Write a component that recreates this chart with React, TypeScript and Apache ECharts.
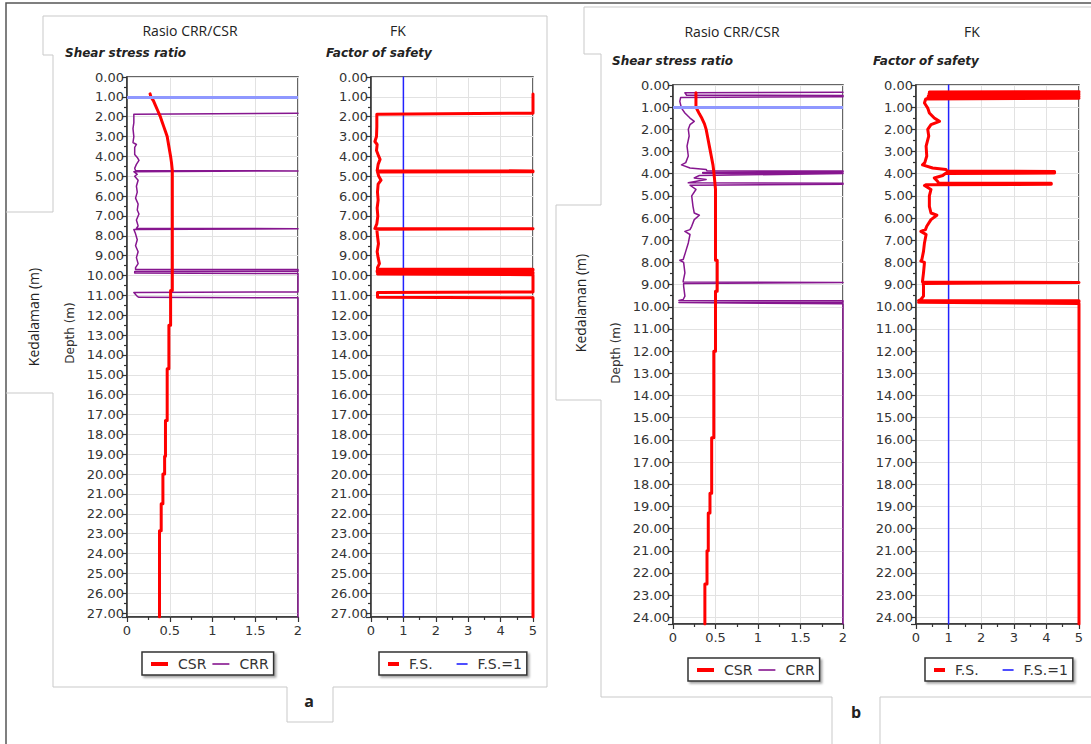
import React, { useEffect, useRef } from "react";
import * as echarts from "echarts";

// ---------- axis settings ----------
const RATIO_AXIS = [0, 2, 0.5]; // min, max, interval
const FS_AXIS = [0, 5, 1];
const DEPTH_A = [0, 27.2];
const DEPTH_B = [0, 24.3];
const GWT_A = 1.0; // groundwater level line (m)
const GWT_B = 1.0;
const FS_LIMIT = 1;

// ---------- panel a data: [value, depth] ----------
const CSR_A = [
  [0.27, 0.85], [0.28, 1.0], [0.31, 1.2], [0.33, 1.4], [0.36, 1.7], [0.39, 2.0], [0.41, 2.25],
  [0.43, 2.5], [0.45, 2.75], [0.47, 3.0], [0.48, 3.25], [0.49, 3.5], [0.5, 3.75], [0.51, 4.0],
  [0.52, 4.3], [0.53, 4.7], [0.53, 10.75], [0.51, 10.75], [0.51, 12.5], [0.49, 12.5], [0.49, 14.7],
  [0.47, 14.7], [0.47, 17.3], [0.45, 17.3], [0.45, 19.1], [0.44, 19.1], [0.44, 20.0], [0.42, 20.0],
  [0.42, 21.5], [0.4, 21.5], [0.4, 22.85], [0.38, 22.85], [0.38, 27.2],
];
const CRR_A = [
  [2, 1.83], [0.08, 1.88], [0.08, 2.3], [0.07, 2.6], [0.08, 3.0], [0.07, 3.3], [0.11, 3.4], [0.09, 3.55],
  [0.09, 3.9], [0.12, 4.05], [0.14, 4.2], [0.11, 4.4], [0.09, 4.6], [0.1, 4.72], [2, 4.73], [2, 4.76],
  [0.08, 4.77], [0.12, 4.9], [0.09, 5.0], [0.13, 5.2], [0.11, 5.5], [0.12, 5.8], [0.1, 6.1], [0.13, 6.4],
  [0.12, 6.7], [0.14, 6.9], [0.11, 7.2], [0.13, 7.5], [0.11, 7.63], [2, 7.64], [2, 7.67], [0.08, 7.68],
  [0.1, 7.9], [0.12, 8.2], [0.1, 8.5], [0.13, 8.8], [0.11, 9.1], [0.13, 9.4], [0.1, 9.6], [0.1, 9.7],
  [2, 9.7], [2, 9.78], [0.09, 9.8], [0.09, 9.87], [2, 9.9], [2, 10.83], [0.08, 10.85], [0.12, 11.05],
  [0.14, 11.1], [2, 11.12], [2, 27.2],
];
const FS_A = [
  [5, 0.85], [5, 1.82], [0.18, 1.88], [0.18, 2.5], [0.17, 3.0], [0.12, 3.25], [0.19, 3.4], [0.17, 3.7],
  [0.24, 4.0], [0.28, 4.15], [0.22, 4.4], [0.19, 4.72], [5, 4.73], [5, 4.77], [0.2, 4.78], [0.24, 5.0],
  [0.31, 5.2], [0.22, 5.4], [0.2, 5.8], [0.22, 6.2], [0.19, 6.6], [0.21, 7.0], [0.18, 7.4], [0.12, 7.63],
  [5, 7.64], [5, 7.67], [0.18, 7.68], [0.2, 8.0], [0.23, 8.4], [0.19, 8.8], [0.22, 9.1], [0.26, 9.4],
  [0.2, 9.6], [0.2, 9.68], [5, 9.68], [5, 9.74], [0.19, 9.76], [0.19, 9.82], [5, 9.84], [5, 9.9],
  [0.2, 9.92], [0.2, 9.95], [5, 9.96], [5, 10.83], [0.2, 10.85], [0.2, 11.1], [5, 11.12], [5, 27.2],
];

// ---------- panel b data: [value, depth] ----------
const CSR_B = [
  [0.27, 0.35], [0.27, 1.0], [0.29, 1.15], [0.31, 1.3], [0.34, 1.5], [0.37, 1.75], [0.39, 2.0],
  [0.41, 2.4], [0.43, 2.8], [0.45, 3.2], [0.47, 3.6], [0.48, 3.9], [0.49, 4.3], [0.5, 4.7], [0.5, 7.9],
  [0.52, 7.9], [0.52, 9.3], [0.5, 9.3], [0.5, 12.0], [0.48, 12.0], [0.48, 15.9], [0.455, 15.9],
  [0.455, 18.4], [0.435, 18.4], [0.435, 19.3], [0.415, 19.3], [0.415, 21.0], [0.4, 21.0], [0.4, 22.5],
  [0.375, 22.5], [0.375, 24.3],
];
const CRR_B = [
  [2, 0.33], [0.14, 0.35], [0.16, 0.46], [2, 0.47], [2, 0.53], [0.09, 0.56], [0.08, 0.74], [0.1, 1.04],
  [0.14, 1.26], [0.2, 1.49], [0.25, 1.64], [0.2, 1.79], [0.18, 2.0], [0.19, 2.3], [0.165, 2.76],
  [0.18, 3.2], [0.15, 3.5], [0.1, 3.6], [0.2, 3.74], [0.39, 3.81], [0.4, 3.87], [2, 3.88], [2, 3.92],
  [0.35, 3.94], [0.35, 3.98], [2, 3.99], [2, 4.02], [0.31, 4.08], [0.25, 4.19], [0.39, 4.26],
  [0.18, 4.41], [2, 4.43], [2, 4.47], [0.2, 4.52], [0.27, 4.71], [0.22, 5.0], [0.235, 5.47],
  [0.25, 5.77], [0.31, 5.87], [0.25, 6.07], [0.22, 6.37], [0.2, 6.52], [0.14, 6.6], [0.2, 6.74],
  [0.18, 7.12], [0.15, 7.5], [0.12, 7.87], [0.08, 7.9], [0.125, 8.0], [0.14, 8.47], [0.12, 8.84],
  [0.12, 8.88], [2, 8.9], [2, 8.93], [0.125, 8.95], [0.125, 9.07], [0.14, 9.52], [0.12, 9.67],
  [0.07, 9.72], [2, 9.73], [2, 9.8], [0.07, 9.81], [0.07, 9.84], [2, 9.86], [2, 24.3],
];
const FS_B = [
  [5, 0.3], [0.41, 0.32], [5, 0.36], [0.4, 0.4], [5, 0.44], [0.38, 0.48], [5, 0.52], [0.36, 0.56],
  [5, 0.6], [0.3, 0.63], [0.29, 0.66], [0.26, 0.81], [0.36, 1.04], [0.41, 1.26], [0.56, 1.49],
  [0.72, 1.64], [0.46, 1.79], [0.36, 2.0], [0.39, 2.3], [0.31, 2.76], [0.33, 3.2], [0.27, 3.5],
  [0.2, 3.6], [0.51, 3.74], [0.92, 3.81], [0.95, 3.88], [4.25, 3.9], [4.25, 3.97], [0.9, 3.99],
  [0.82, 4.08], [0.56, 4.19], [0.66, 4.34], [0.7, 4.42], [4.15, 4.43], [4.15, 4.48], [0.3, 4.5],
  [0.26, 4.53], [0.46, 4.71], [0.41, 5.0], [0.41, 5.47], [0.46, 5.77], [0.64, 5.87], [0.46, 6.07],
  [0.33, 6.37], [0.29, 6.52], [0.15, 6.6], [0.31, 6.74], [0.26, 7.12], [0.23, 7.5], [0.18, 7.87],
  [0.15, 7.94], [0.26, 8.0], [0.23, 8.47], [0.2, 8.84], [0.2, 8.88], [5, 8.9], [5, 8.93], [0.22, 8.95],
  [0.23, 9.07], [0.23, 9.52], [0.15, 9.67], [0.08, 9.72], [5, 9.73], [5, 9.78], [0.08, 9.8],
  [0.08, 9.83], [5, 9.85], [5, 24.3],
];

const NAMES = ["CSR", "CRR", "F.S.", "F.S.=1"];

// ---------- styling ----------
const RED = "#ff0000";
const PURPLE = "#86168f";
const BLUE = "#2222ff";
const GWT_COLOR = "#8f98ff";
const DARK = "#333333";
const FRAME = "#c9c9c9";
const NUM_FONT = "DejaVu Sans";
const TITLE_FONT = "Open Sans";

const GRIDS = [
  { left: 127, top: 77, width: 171, height: 540 },
  { left: 371, top: 77, width: 162, height: 540 },
  { left: 673, top: 85, width: 170, height: 539 },
  { left: 916, top: 85, width: 163, height: 539 },
];

function xAxisFor(i: number, ax: number[]) {
  return {
    type: "value",
    gridIndex: i,
    min: ax[0],
    max: ax[1],
    interval: ax[2],
    position: "bottom",
    axisLine: { show: true, onZero: false, lineStyle: { color: DARK, width: 1.5 } },
    axisTick: { show: true, length: 5, lineStyle: { color: DARK, width: 1.2 } },
    minorTick: { show: true, splitNumber: 2, length: 3, lineStyle: { color: DARK, width: 1.2 } },
    axisLabel: { color: DARK, fontFamily: NUM_FONT, fontSize: 13, margin: 7 },
    splitLine: { show: true, lineStyle: { color: "#e2e2e2", width: 1 } },
  };
}

function yAxisFor(i: number, dep: number[]) {
  return {
    type: "value",
    gridIndex: i,
    inverse: true,
    min: dep[0],
    max: dep[1],
    interval: 1,
    axisLine: { show: true, onZero: false, lineStyle: { color: DARK, width: 1.5 } },
    axisTick: { show: true, length: 5, lineStyle: { color: DARK, width: 1.2 } },
    minorTick: { show: true, splitNumber: 2, length: 3, lineStyle: { color: DARK, width: 1.2 } },
    axisLabel: {
      color: DARK,
      fontFamily: NUM_FONT,
      fontSize: 13,
      margin: 3,
      showMaxLabel: false,
      formatter: (v: number) => v.toFixed(2),
    },
    splitLine: { show: true, lineStyle: { color: "#e2e2e2", width: 1 } },
  };
}

function lineSeries(name: string, data: number[][], gi: number, color: string, width: number, extra: any = {}) {
  return {
    name,
    type: "line",
    xAxisIndex: gi,
    yAxisIndex: gi,
    data,
    color,
    showSymbol: false,
    symbol: "none",
    silent: true,
    lineStyle: { color, width, cap: "round", join: "round" },
    ...extra,
  };
}

function gwtMark(depth: number) {
  return {
    markLine: {
      silent: true,
      symbol: "none",
      label: { show: false },
      lineStyle: { color: GWT_COLOR, width: 3, type: "solid" },
      data: [{ yAxis: depth }],
    },
  };
}

const THICK_ICON = "path://M0,0H17V4H0Z";
const THIN_ICON = "path://M0,0H17V1.6H0Z";
const THICK_ICON_S = "path://M0,0H11V4H0Z";
const THIN_ICON_S = "path://M0,0H11V1.6H0Z";

function legendBox(left: number, top: number, names: string[], icons: string[], gap: number, iw: number) {
  return {
    left,
    top,
    orient: "horizontal",
    data: names.map((n, k) => ({ name: n, icon: icons[k] })),
    itemWidth: iw,
    itemHeight: 8,
    itemGap: gap,
    symbolKeepAspect: true,
    padding: [5, 5, 4, 9],
    backgroundColor: "#ffffff",
    borderColor: DARK,
    borderWidth: 1.5,
    borderRadius: 0,
    shadowColor: "rgba(0,0,0,0.35)",
    shadowBlur: 2,
    shadowOffsetX: 2,
    shadowOffsetY: 2,
    selectedMode: false,
    textStyle: { color: DARK, fontFamily: NUM_FONT, fontSize: 14, padding: [0, 0, 0, 5] },
  };
}

function txt(text: string, x: number, y: number, font: string, align = "center", rot = 0, fill = "#222") {
  return {
    type: "text",
    x,
    y,
    rotation: rot,
    silent: true,
    style: {
      text,
      font,
      fill,
      align,
      verticalAlign: "middle",
      textAlign: align,
      textVerticalAlign: "middle",
    },
  };
}

function pl(points: number[][], stroke = FRAME, lineWidth = 1) {
  return {
    type: "polyline",
    silent: true,
    shape: { points },
    style: { stroke, lineWidth, fill: "none" },
  };
}

export default function App() {
  const ref = useRef<HTMLDivElement>(null);
  useEffect(() => {
    if (!ref.current) return;
    const chart = echarts.init(ref.current, null, { renderer: "svg" });
    const ROT = Math.PI / 2;
    const option: any = {
      animation: false,
      backgroundColor: "#ffffff",
      grid: GRIDS.map((g) => ({
        ...g,
        show: true,
        borderColor: DARK,
        borderWidth: 1.5,
        backgroundColor: "transparent",
        containLabel: false,
      })),
      xAxis: [xAxisFor(0, RATIO_AXIS), xAxisFor(1, FS_AXIS), xAxisFor(2, RATIO_AXIS), xAxisFor(3, FS_AXIS)],
      yAxis: [yAxisFor(0, DEPTH_A), yAxisFor(1, DEPTH_A), yAxisFor(2, DEPTH_B), yAxisFor(3, DEPTH_B)],
      legend: [
        legendBox(142, 652, [NAMES[0], NAMES[1]], [THICK_ICON, THIN_ICON], 6, 17),
        legendBox(379, 652, [NAMES[2], NAMES[3]], [THICK_ICON_S, THIN_ICON_S], 24, 11),
        legendBox(688, 658, [NAMES[0], NAMES[1]], [THICK_ICON, THIN_ICON], 6, 17),
        legendBox(925, 658, [NAMES[2], NAMES[3]], [THICK_ICON_S, THIN_ICON_S], 24, 11),
      ],
      series: [
        lineSeries(NAMES[1], CRR_A, 0, PURPLE, 1.5, gwtMark(GWT_A)),
        lineSeries(NAMES[0], CSR_A, 0, RED, 3),
        lineSeries(NAMES[3], [[FS_LIMIT, DEPTH_A[0]], [FS_LIMIT, DEPTH_A[1]]], 1, BLUE, 1.5),
        lineSeries(NAMES[2], FS_A, 1, RED, 3),
        lineSeries(NAMES[1], CRR_B, 2, PURPLE, 1.5, gwtMark(GWT_B)),
        lineSeries(NAMES[0], CSR_B, 2, RED, 3),
        lineSeries(NAMES[3], [[FS_LIMIT, DEPTH_B[0]], [FS_LIMIT, DEPTH_B[1]]], 3, BLUE, 1.5),
        lineSeries(NAMES[2], FS_B, 3, RED, 3),
      ],
      graphic: [
        // outer border
        pl([[6, 744], [6, 3], [1091, 3]], "#555555", 1.5),
        // panel a frames
        pl([[53, 212], [53, 55], [43, 55], [43, 16], [547, 16], [547, 687], [333, 687], [333, 722], [287, 722], [287, 687], [53, 687], [53, 393]]),
        pl([[6, 212], [53, 212]]),
        pl([[6, 393], [53, 393]]),
        // panel b frames
        pl([[601, 205], [601, 54], [584, 54], [584, 7], [1091, 7]]),
        pl([[601, 205], [556, 205], [556, 400], [601, 400]]),
        pl([[601, 400], [601, 697], [832, 697], [832, 744]]),
        pl([[880, 744], [880, 697], [1091, 697]]),
        // titles
        txt("Rasio CRR/CSR", 190, 30, `14px ${TITLE_FONT}`),
        txt("FK", 398, 30, `14px ${TITLE_FONT}`),
        txt("Shear stress ratio", 65, 53, `italic bold 12px ${NUM_FONT}`, "left"),
        txt("Factor of safety", 326, 53, `italic bold 12px ${NUM_FONT}`, "left"),
        txt("Rasio CRR/CSR", 732, 31, `14px ${TITLE_FONT}`),
        txt("FK", 972, 31, `14px ${TITLE_FONT}`),
        txt("Shear stress ratio", 612, 61, `italic bold 12px ${NUM_FONT}`, "left"),
        txt("Factor of safety", 873, 61, `italic bold 12px ${NUM_FONT}`, "left"),
        txt("Kedalaman (m)", 33, 317, `14px ${TITLE_FONT}`, "center", ROT),
        txt("Kedalaman (m)", 580, 303, `14px ${TITLE_FONT}`, "center", ROT),
        txt("Depth (m)", 70, 333, `12px ${NUM_FONT}`, "center", ROT, DARK),
        txt("Depth (m)", 616, 353, `12px ${NUM_FONT}`, "center", ROT, DARK),
        txt("a", 309, 701, `bold 16px ${TITLE_FONT}`),
        txt("b", 856, 712, `bold 16px ${TITLE_FONT}`),
      ],
    };
    chart.setOption(option);
    return () => chart.dispose();
  }, []);
  return (
    <div
      ref={ref}
      style={{ position: "absolute", left: 0, top: 0, width: 1091, height: 744, background: "#fff" }}
    />
  );
}
